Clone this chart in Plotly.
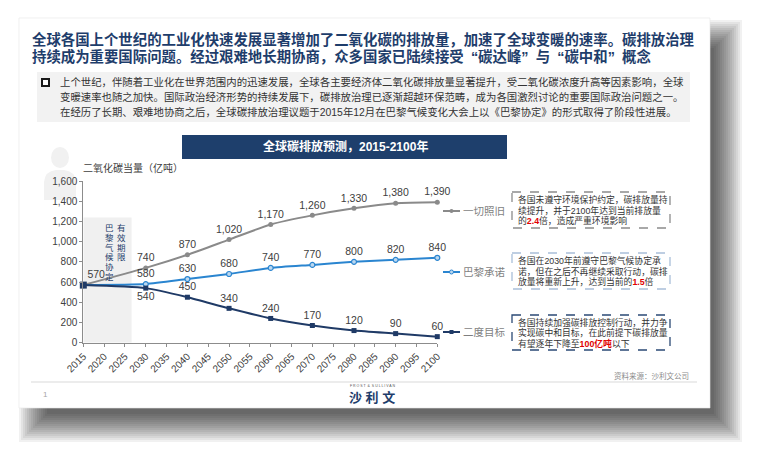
import plotly.graph_objects as go

W, H = 757, 455

# ---------------- data ----------------
years = [2015, 2030, 2040, 2050, 2060, 2070, 2080, 2090, 2100]
bau = [570, 740, 870, 1020, 1170, 1260, 1330, 1380, 1390]        # 一切照旧
paris = [570, 580, 630, 680, 740, 770, 800, 820, 840]            # 巴黎承诺
two_deg = [570, 540, 450, 340, 240, 170, 120, 90, 60]            # 二度目标
series_names = ["一切照旧", "巴黎承诺", "二度目标"]
x_tick_vals = [2015, 2020, 2025, 2030, 2035, 2040, 2045, 2050, 2055, 2060,
               2065, 2070, 2075, 2080, 2085, 2090, 2095, 2100]
y_tick_vals = [0, 200, 400, 600, 800, 1000, 1200, 1400, 1600]
paris_window = [2015, 2026.6]   # 巴黎气候协定有效期限 shaded span

title_lines = [
    "全球各国上个世纪的工业化快速发展显著增加了二氧化碳的排放量，加速了全球变暖的速率。碳排放治理",
    "持续成为重要国际问题。经过艰难地长期协商，众多国家已陆续接受\u2002“碳达峰”\u2002与\u2002“碳中和”\u2002概念",
]
desc_lines = [
    "上个世纪，伴随着工业化在世界范围内的迅速发展，全球各主要经济体二氧化碳排放量显著提升，受二氧化碳浓度升高等因素影响，全球",
    "变暖速率也随之加快。国际政治经济形势的持续发展下，碳排放治理已逐渐超越环保范畴，成为各国激烈讨论的重要国际政治问题之一。",
    "在经历了长期、艰难地协商之后，全球碳排放治理议题于2015年12月在巴黎气候变化大会上以《巴黎协定》的形式取得了阶段性进展。",
]
RED = "<b><span style='color:#e00000'>{}</span></b>"
box_texts = [
    ["各国未遵守环境保护约定，碳排放量持", "续提升，并于2100年达到当前排放量", "的" + RED.format("2.4") + "倍，造成严重环境影响"],
    ["各国在2030年前遵守巴黎气候协定承", "诺，但在之后不再继续采取行动，碳排", "放量将重新上升，达到当前的" + RED.format("1.5") + "倍"],
    ["各国持续加强碳排放控制行动，并力争", "实现碳中和目标，在此前提下碳排放量", "有望逐年下降至" + RED.format("100亿吨") + "以下"],
]

# ---------------- styles ----------------
GREY = "#8a8a8a"
BLUE = "#2a85d0"
NAVY = "#1f3a66"
TXT = "#404040"
CJK = "Noto Sans CJK SC"
MIX = "Liberation Sans, Noto Sans CJK SC"


def px(x):
    return x / W


def py(y):
    return 1 - y / H


fig = go.Figure()


def labels(vals, first=True):
    return [(f"{v:,}" if (i > 0 or first) else "") for i, v in enumerate(vals)]


fig.add_trace(go.Scatter(
    x=years, y=bau, mode="lines+markers+text", name=series_names[0],
    line=dict(color=GREY, width=2, shape="spline", smoothing=0.6),
    marker=dict(size=5, color=GREY),
    text=labels(bau), textposition=["top right"] + ["top center"] * 8,
    textfont=dict(family=MIX, size=10.5, color=TXT), cliponaxis=False))
fig.add_trace(go.Scatter(
    x=years, y=paris, mode="lines+markers+text", name=series_names[1],
    line=dict(color=BLUE, width=2, shape="spline", smoothing=0.6),
    marker=dict(size=5, color="#bcd8f0", line=dict(color=BLUE, width=1.2)),
    text=labels(paris, False), textposition="top center",
    textfont=dict(family=MIX, size=10.5, color=TXT), cliponaxis=False))
fig.add_trace(go.Scatter(
    x=years, y=two_deg, mode="lines+markers+text", name=series_names[2],
    line=dict(color=NAVY, width=2, shape="spline", smoothing=0.6),
    marker=dict(size=5, color=NAVY, symbol="square"),
    text=labels(two_deg, False),
    textposition=["top center", "bottom center"] + ["top center"] * 7,
    textfont=dict(family=MIX, size=10.5, color=TXT), cliponaxis=False))
fig.add_trace(go.Scatter(
    x=years[:1], y=two_deg[:1], mode="markers",
    marker=dict(size=7, color=NAVY, symbol="square"), cliponaxis=False))

shapes = []
# drop shadow (right / bottom)
SX0, SY0, SX1, SY1 = 19, 18, 710, 408
OX, OY = 16, 18
for k in range(15):
    e = -12 + 2 * k
    shapes.append(dict(type="rect", xref="paper", yref="paper", layer="below",
                       x0=px(SX0 + OX - e), x1=px(SX1 + OX + e),
                       y0=py(SY0 + OY - e), y1=py(SY1 + OY + e),
                       fillcolor="rgba(0,0,0,0.055)", line=dict(width=0)))
# slide
shapes.append(dict(type="rect", xref="paper", yref="paper", layer="below",
                   x0=px(SX0), x1=px(SX1), y0=py(SY0), y1=py(SY1),
                   fillcolor="white", line=dict(color="#e6e6e6", width=0.6)))
# description panel
shapes.append(dict(type="rect", xref="paper", yref="paper", layer="below",
                   x0=px(37), x1=px(690), y0=py(72), y1=py(122),
                   fillcolor="#f2f2f2", line=dict(width=0)))
# bullet
shapes.append(dict(type="rect", xref="paper", yref="paper", layer="above",
                   x0=px(42), x1=px(49), y0=py(79), y1=py(86),
                   fillcolor="white", line=dict(color="#1a1a1a", width=2)))
# person icon
shapes.append(dict(type="circle", xref="paper", yref="paper", layer="below",
                   x0=px(51), x1=px(69), y0=py(147), y1=py(168),
                   fillcolor="#f1f1f1", line=dict(width=0)))
shapes.append(dict(type="path", xref="paper", yref="paper", layer="below",
                   path=(f"M {px(44)},{py(200)} L {px(44)},{py(182)} Q {px(45)},{py(171)} {px(56)},{py(170)} "
                         f"L {px(64)},{py(170)} Q {px(75)},{py(171)} {px(76)},{py(182)} L {px(76)},{py(200)} Z"),
                   fillcolor="#f1f1f1", line=dict(width=0)))
# chart banner
shapes.append(dict(type="rect", xref="paper", yref="paper", layer="below",
                   x0=px(182), x1=px(507), y0=py(135), y1=py(159),
                   fillcolor="#1e3f6c", line=dict(width=0)))
# shaded Paris window
shapes.append(dict(type="rect", xref="x", yref="y", layer="below",
                   x0=paris_window[0], x1=paris_window[1], y0=0, y1=1240,
                   fillcolor="#f0f0f0", line=dict(width=0)))
# legend glyphs
leg_y = [211, 272, 332]
leg_cols = [GREY, BLUE, NAVY]
for yy, c in zip(leg_y, leg_cols):
    shapes.append(dict(type="line", xref="paper", yref="paper",
                       x0=px(443), x1=px(460), y0=py(yy), y1=py(yy),
                       line=dict(color=c, width=2)))
shapes.append(dict(type="circle", xref="paper", yref="paper",
                   x0=px(449.5), x1=px(453.5), y0=py(209), y1=py(213),
                   fillcolor=GREY, line=dict(width=0)))
shapes.append(dict(type="circle", xref="paper", yref="paper",
                   x0=px(449.5), x1=px(453.5), y0=py(270), y1=py(274),
                   fillcolor="#bcd8f0", line=dict(color=BLUE, width=1)))
shapes.append(dict(type="rect", xref="paper", yref="paper",
                   x0=px(449.5), x1=px(453.5), y0=py(330), y1=py(334),
                   fillcolor=NAVY, line=dict(width=0)))
# dashed boxes
boxes = [(192, 228, "#8c8c8c"), (253, 289, "#a9bfd9"), (315, 350, "#2b4a75")]
for y0, y1, c in boxes:
    shapes.append(dict(type="rect", xref="paper", yref="paper",
                       x0=px(512), x1=px(670), y0=py(y0), y1=py(y1),
                       fillcolor="rgba(0,0,0,0)", line=dict(color=c, width=1.3, dash="dash")))
# footer line
shapes.append(dict(type="line", xref="paper", yref="paper",
                   x0=px(31), x1=px(697), y0=py(382), y1=py(382),
                   line=dict(color="#d9d9d9", width=1)))

ann = []


def A(x, y, text, size, color=TXT, family=MIX, xanchor="left", yanchor="middle", **kw):
    ann.append(dict(x=px(x), y=py(y), xref="paper", yref="paper", text=text, showarrow=False,
                    xanchor=xanchor, yanchor=yanchor, font=dict(size=size, color=color, family=family),
                    align="left", **kw))


# title
A(31, 39.5, "<b>" + title_lines[0] + "</b>", 14.4, color="#1e3d6b", borderpad=0)
A(31, 56.3, "<b>" + title_lines[1] + "</b>", 14.4, color="#1e3d6b", borderpad=0)
# description
for i, t in enumerate(desc_lines):
    A(58, 82 + 15 * i, t, 10.4, color="#333333")
# banner text
A(345, 147, "<b>全球碳排放预测，2015-2100年</b>", 12, color="white", xanchor="center")
# y-axis title
A(81, 168, "二氧化碳当量（亿吨）", 10, color=TXT)
# vertical labels, one character per row
for i, ch in enumerate("有效期限"):
    A(121, 228 + 9.8 * i, ch, 8.5, color="#1e3d6b", xanchor="center", borderpad=0)
for i, ch in enumerate("巴黎气候协定"):
    A(109, 228 + 9.8 * i, ch, 8.5, color="#1e3d6b", xanchor="center", borderpad=0)
# legend labels
for yy, name in zip(leg_y, series_names):
    A(461, yy, name, 10.5, color="#7f7f7f")
# box texts
box_line_y = [(199, 210, 220), (260, 271, 281), (322, 332, 343)]
for lines, ys in zip(box_texts, box_line_y):
    for t, yy in zip(lines, ys):
        A(516, yy, t, 8.8, color="#333333")
# footer
A(45, 394, "1", 8, color="#a6a6a6", xanchor="center")
A(691, 376, "资料来源：沙利文公司", 7.5, color="#8c8c8c", xanchor="right")
A(372, 386, "F R O S T  &  S U L L I V A N", 3.5, color="#555555", xanchor="center")
A(372, 397, "<b>沙 利 文</b>", 13, color="#1e3d6b", xanchor="center")

fig.update_layout(
    template="none",
    width=W, height=H, autosize=False,
    margin=dict(l=0, r=0, t=0, b=0, pad=0, autoexpand=False),
    paper_bgcolor="white", plot_bgcolor="rgba(0,0,0,0)",
    showlegend=False, shapes=shapes, annotations=ann,
    xaxis=dict(domain=[px(83.3), px(437.3)], range=[2015, 2100], automargin=False,
               tickmode="array", tickvals=x_tick_vals, ticktext=[str(v) for v in x_tick_vals],
               tickangle=-45, ticks="outside", ticklen=3, tickcolor="#8c8c8c",
               showline=True, linecolor="#8c8c8c", linewidth=1, showgrid=False, zeroline=False,
               tickfont=dict(family=MIX, size=10, color=TXT)),
    yaxis=dict(domain=[py(342.7), py(181)], range=[0, 1600], automargin=False,
               tickmode="array", tickvals=y_tick_vals, tickformat=",",
               ticks="outside", ticklen=3, tickcolor="#8c8c8c",
               showline=True, linecolor="#8c8c8c", linewidth=1, showgrid=False, zeroline=False,
               tickfont=dict(family=MIX, size=10, color=TXT)),
)

fig.write_html("out.html")
